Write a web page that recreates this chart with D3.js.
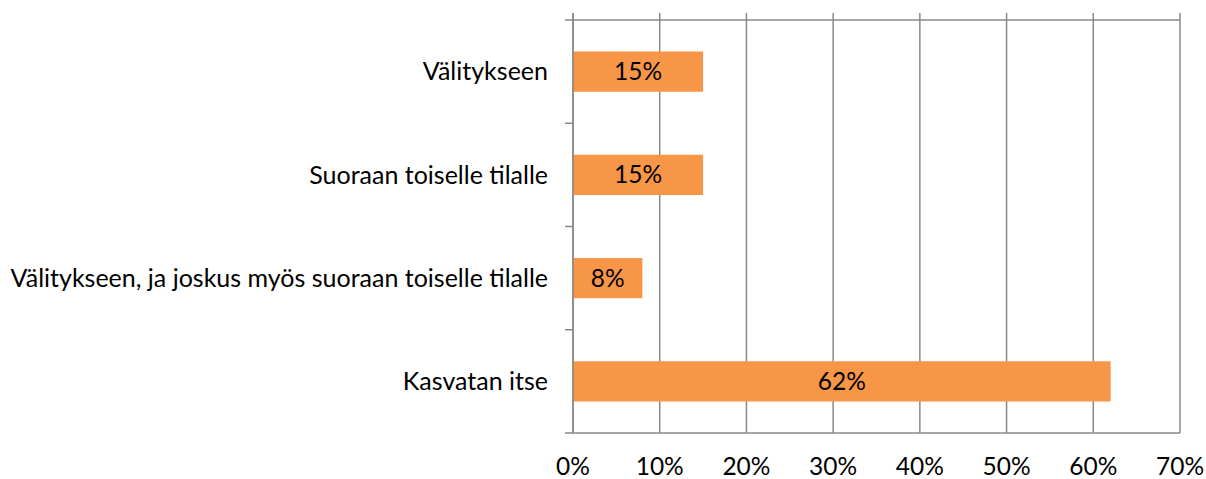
<!DOCTYPE html>
<html>
<head>
<meta charset="utf-8">
<script src="https://cdn.jsdelivr.net/npm/d3@7"></script>
<style>
  body { margin: 0; background: #fff; }
  text { font-family: Lato, "Open Sans", sans-serif; fill: #000; }
</style>
</head>
<body>
<div id="chart"></div>
<script>
const categories = ["Välitykseen", "Suoraan toiselle tilalle", "Välitykseen, ja joskus myös suoraan toiselle tilalle", "Kasvatan itse"];
const values = [15, 15, 8, 62];
const ticks = [0, 10, 20, 30, 40, 50, 60, 70];

const width = 1206, height = 479;
const margin = { top: 20, right: 26, bottom: 46, left: 573 };
const gridColor = "#898989";
const fontSize = 24.5;

let svg = d3.select("#chart").append("svg")
    .attr("width", width)
    .attr("height", height);

let x = d3.scaleLinear().domain([0, 70]).range([margin.left, width - margin.right]);
let y = d3.scaleBand().domain(categories)
    .range([margin.top, height - margin.bottom])
    .paddingInner(0.61).paddingOuter(0.305);

let yBottom = height - margin.bottom;

// vertical gridlines, poking a bit above the top border
svg.append("g").selectAll("line")
    .data(ticks)
    .join("line")
    .attr("x1", d => x(d)).attr("x2", d => x(d))
    .attr("y1", margin.top - 7).attr("y2", yBottom)
    .attr("stroke", gridColor).attr("stroke-width", 1.5);

// top + bottom border
svg.append("g").selectAll("line")
    .data([margin.top, yBottom])
    .join("line")
    .attr("x1", x(0)).attr("x2", x(70))
    .attr("y1", d => d).attr("y2", d => d)
    .attr("stroke", gridColor).attr("stroke-width", 1.5);

// category ticks on left axis
let tickYs = d3.range(categories.length + 1).map(i => margin.top + i * (yBottom - margin.top) / categories.length);
svg.append("g").selectAll("line")
    .data(tickYs)
    .join("line")
    .attr("x1", x(0) - 8).attr("x2", x(0))
    .attr("y1", d => d).attr("y2", d => d)
    .attr("stroke", gridColor).attr("stroke-width", 1.5);

// bars
svg.append("g").selectAll("rect")
    .data(categories)
    .join("rect")
    .attr("x", x(0))
    .attr("y", d => y(d))
    .attr("width", (d, i) => x(values[i]) - x(0))
    .attr("height", y.bandwidth())
    .attr("fill", "#F79646");

// left axis line drawn over bars
svg.append("line")
    .attr("x1", x(0)).attr("x2", x(0))
    .attr("y1", margin.top - 7).attr("y2", yBottom)
    .attr("stroke", gridColor).attr("stroke-width", 1.5);

// value labels
svg.append("g").selectAll("text")
    .data(categories)
    .join("text")
    .attr("x", (d, i) => (x(0) + x(values[i])) / 2)
    .attr("y", d => y(d) + y.bandwidth() / 2)
    .attr("dy", "0.35em")
    .attr("text-anchor", "middle")
    .attr("font-size", fontSize)
    .text((d, i) => values[i] + "%");

// category labels
svg.append("g").selectAll("text")
    .data(categories)
    .join("text")
    .attr("x", x(0) - 25)
    .attr("y", d => y(d) + y.bandwidth() / 2)
    .attr("dy", "0.35em")
    .attr("text-anchor", "end")
    .attr("font-size", 25)
    .text(d => d);

// value axis labels
svg.append("g").selectAll("text")
    .data(ticks)
    .join("text")
    .attr("x", d => x(d))
    .attr("y", yBottom + 42)
    .attr("text-anchor", "middle")
    .attr("font-size", fontSize)
    .text(d => d + "%");
</script>
</body>
</html>
